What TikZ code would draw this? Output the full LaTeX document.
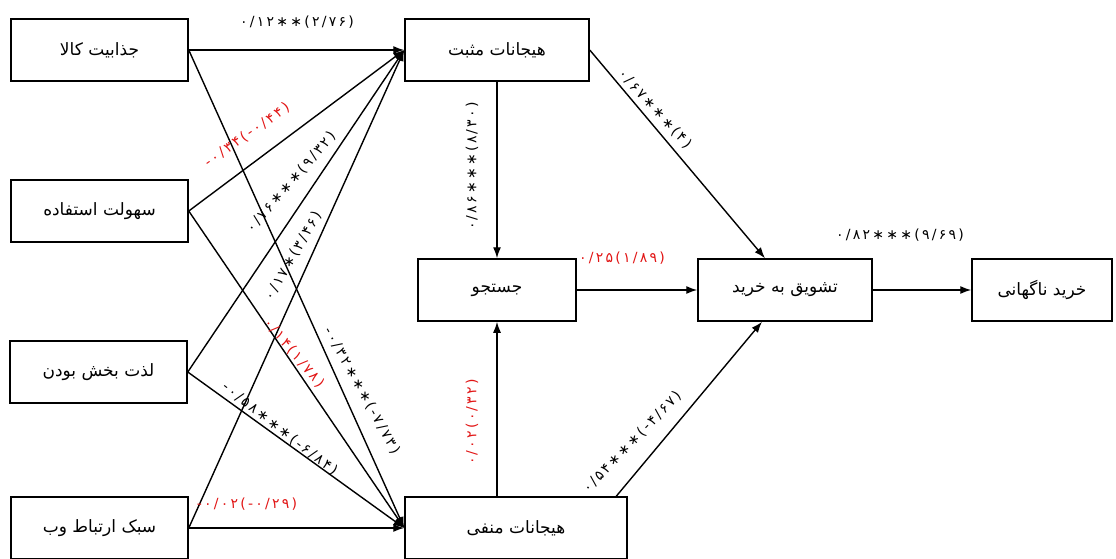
\documentclass[tikz,border=0pt]{standalone}
\usepackage{fontspec}
\setmainfont{DejaVu Sans}
\newfontfamily\fa[Script=Arabic]{DejaVu Sans}
\newfontfamily\numf[LetterSpace=16]{DejaVu Sans}
\TeXXeTstate=1
\usetikzlibrary{arrows.meta}
\definecolor{lred}{RGB}{225,20,20}
\tikzset{
  box/.style={draw, line width=1.5pt, minimum height=62pt, inner sep=0pt, font=\fa\fontsize{17}{19}\selectfont},
  arr/.style={line width=1.4pt, -{Latex[length=11pt,width=8pt]}},
  lab/.style={inner sep=0pt, font=\numf\fontsize{14}{16}\selectfont},
  rlab/.style={lab, text=lred}
}
\begin{document}
\begin{tikzpicture}[x=1pt,y=-1pt]
\useasboundingbox (0,0) rectangle (1116,559);
% left column
\node[box, minimum width=177pt] (b1) at (99.5,50) {\beginR جذابیت کالا\endR};
\node[box, minimum width=177pt] (b2) at (99.5,211) {\beginR سهولت استفاده\endR};
\node[box, minimum width=177pt] (b3) at (98.5,372) {\beginR لذت بخش بودن\endR};
\node[box, minimum width=177pt] (b4) at (99.5,528) {\beginR سبک ارتباط وب\endR};
% middle
\node[box, minimum width=184pt] (pos) at (497,50) {\beginR هیجانات مثبت\endR};
\node[box, minimum width=158pt] (srch) at (497,290) {\beginR جستجو\endR};
\node[box, minimum width=222pt] (neg) at (516,528) {\beginR هیجانات منفی\endR};
% right
\node[box, minimum width=174pt] (tash) at (785,290) {\beginR تشویق به خرید\endR};
\node[box, minimum width=140pt] (khar) at (1042,290) {\beginR خرید ناگهانی\endR};
% connectors
\draw[arr] (b1.east) -- (pos.west);
\draw[arr] (b2.east) -- (pos.west);
\draw[arr] (b3.east) -- (pos.west);
\draw[arr] (b4.east) -- (pos.west);
\draw[arr] (b1.east) -- (neg.west);
\draw[arr] (b2.east) -- (neg.west);
\draw[arr] (b3.east) -- (neg.west);
\draw[arr] (b4.east) -- (neg.west);
\draw[arr] (pos.south) -- (srch.north);
\draw[arr] (srch.south |- neg.north) -- (srch.south);
\draw[arr] (srch.east) -- (tash.west);
\draw[arr] (pos.east) -- ([xshift=-20pt]tash.north);
\draw[arr] ([xshift=212pt]neg.north west) -- ([xshift=-23pt]tash.south);
\draw[arr] (tash.east) -- (khar.west);
% labels
\node[lab] (l1) at (297,22) {۰/۱۲∗∗(۲/۷۶)};
\node[rlab, rotate=35] (l2) at (247,135) {-۰/۳۴(-۰/۴۴)};
\node[lab, rotate=49] (l3) at (291,182) {۰/۷۶∗∗∗(۹/۳۲)};
\node[lab, rotate=60] (l4) at (293,256) {۰/۱۷∗(۳/۴۶)};
\node[rlab, rotate=-50] (l5) at (294,353) {۰/۱۴(۱/۷۸)};
\node[lab, rotate=-61] (l6) at (362,391) {-۰/۳۲∗∗∗(-۷/۷۳)};
\node[lab, rotate=-38] (l7) at (280,429) {-۰/۵۸∗∗∗(-۶/۸۴)};
\node[rlab] (l8) at (247,504) {-۰/۰۲(-۰/۲۹)};
\node[lab, rotate=90] (l9) at (472,166) {۰/۸۶∗∗∗(۸/۳۰)};
\node[rlab, rotate=90] (l10) at (472,422) {۰/۰۲(۰/۳۲)};
\node[rlab] (l11) at (622,258) {۰/۲۵(۱/۸۹)};
\node[lab, rotate=-47.5] (l12) at (655,109) {۰/۶۷∗∗∗(۴)};
\node[lab, rotate=46] (l13) at (632,442) {۰/۵۴∗∗∗(-۴/۶۷)};
\node[lab] (l14) at (900,235) {۰/۸۲∗∗∗(۹/۶۹)};
\end{tikzpicture}
\end{document}
